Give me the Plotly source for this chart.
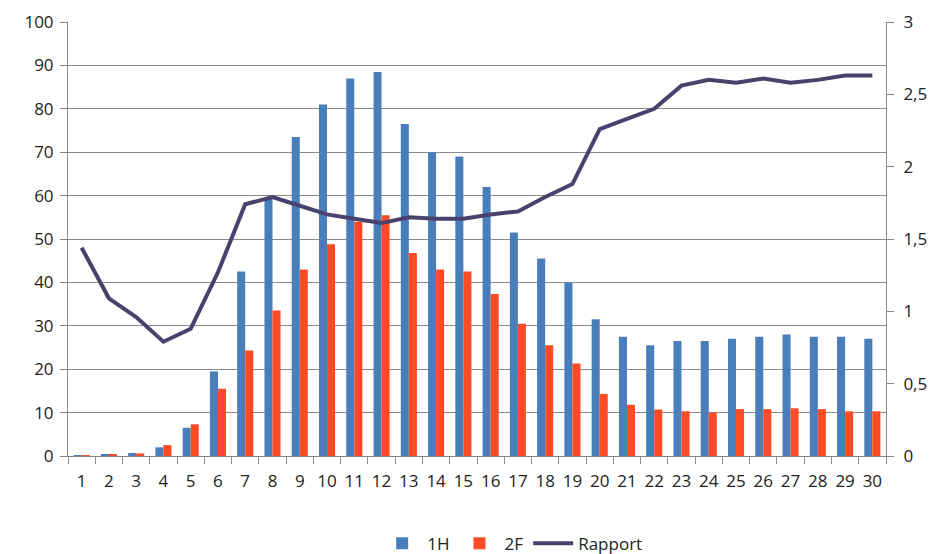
import plotly.graph_objects as go

categories = [str(i) for i in range(1, 31)]
h1 = [0.2, 0.4, 0.7, 2.0, 6.5, 19.5, 42.5, 59.5, 73.5, 81.0, 87.0, 88.5, 76.5, 70.0, 69.0,
      62.0, 51.5, 45.5, 40.0, 31.5, 27.5, 25.5, 26.5, 26.5, 27.0, 27.5, 28.0, 27.5, 27.5, 27.0]
f2 = [0.1, 0.3, 0.6, 2.5, 7.3, 15.5, 24.3, 33.5, 43.0, 48.8, 54.0, 55.5, 46.8, 43.0, 42.5,
      37.3, 30.5, 25.5, 21.3, 14.3, 11.8, 10.7, 10.3, 10.0, 10.8, 10.8, 11.0, 10.8, 10.3, 10.3]
rapport = [1.44, 1.09, 0.96, 0.79, 0.88, 1.27, 1.74, 1.79, 1.73, 1.67, 1.64, 1.61, 1.65, 1.64, 1.64,
           1.67, 1.69, 1.79, 1.88, 2.26, 2.33, 2.40, 2.56, 2.60, 2.58, 2.61, 2.58, 2.60, 2.63, 2.63]
left_ticks = list(range(0, 101, 10))
right_ticks = [0, 0.5, 1, 1.5, 2, 2.5, 3]

font = "Open Sans"
fig = go.Figure()
fig.add_trace(go.Bar(x=categories, y=h1, name="1H", marker=dict(color="#4A7EBB", line_width=0)))
fig.add_trace(go.Bar(x=categories, y=f2, name="2F", marker=dict(color="#FF4A26", line_width=0)))
fig.add_trace(go.Scatter(x=categories, y=rapport, name="Rapport", yaxis="y2", mode="lines",
                         line=dict(color="#48426C", width=4)))

fig.update_layout(
    width=937, height=554,
    margin=dict(l=60, r=59, t=14, b=106),
    paper_bgcolor="white", plot_bgcolor="white",
    separators=", ",
    barmode="group", bargap=0.41, bargroupgap=0,
    font=dict(family=font, size=17, color="#222222"),
    xaxis=dict(type="category", tickson="boundaries", ticks="outside", ticklen=7,
               tickcolor="#888888", showline=True, linecolor="#888888", linewidth=1,
               showgrid=False, tickfont=dict(size=17), automargin=False,
               tickangle=0, ticklabelstandoff=10, ticklabeloverflow="allow"),
    yaxis=dict(range=[0, 100], tickvals=left_ticks, ticks="outside", ticklen=7,
               tickcolor="#888888", showline=True, linecolor="#888888", linewidth=1,
               showgrid=True, gridcolor="#8a8a8a", gridwidth=1, zeroline=False,
               tickfont=dict(size=17), automargin=False, ticklabelstandoff=3,
               ticklabeloverflow="allow"),
    yaxis2=dict(range=[0, 3], tickvals=right_ticks, overlaying="y", side="right",
                ticks="outside", ticklen=7, tickcolor="#888888", showline=True,
                linecolor="#888888", linewidth=1, showgrid=False, zeroline=False,
                tickfont=dict(size=17), automargin=False, ticklabelstandoff=6,
                ticklabeloverflow="allow"),
    legend=dict(orientation="h", xref="container", yref="container",
                x=0.394, xanchor="left", y=0.033, yanchor="middle",
                font=dict(size=17), traceorder="normal", itemwidth=40),
)

fig.write_html("out.html")
